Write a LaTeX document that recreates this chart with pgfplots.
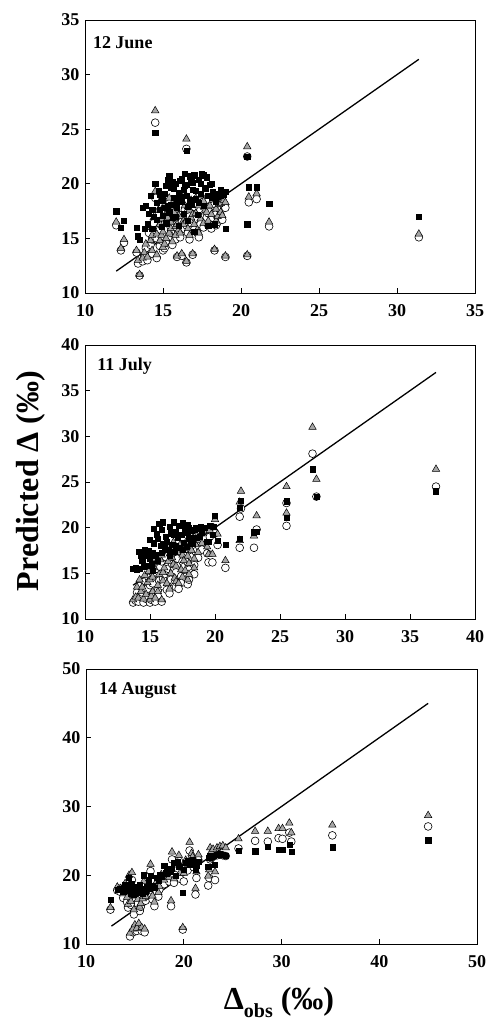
\documentclass[border=0pt]{standalone}
\usepackage{fontspec}
\setmainfont{Liberation Serif}
\usepackage{pgfplots}
\pgfplotsset{compat=1.18}
\usepackage{pgfplotstable}

\pgfplotstableread{
x sq ci tr
12.0 17.5 16.2 16.5
12.3 16.0 13.9 14.1
12.5 16.6 14.6 14.9
13.3 16.0 13.7 13.9
13.4 15.2 12.7 13.0
13.5 14.9 11.6 11.7
13.7 17.8 12.9 13.2
13.8 15.9 13.4 13.7
13.9 18.0 14.1 14.5
14.0 16.3 13.0 13.3
14.1 17.3 15.5 16.0
14.2 18.9 14.4 14.8
14.3 15.9 13.6 13.9
14.3 17.6 14.9 15.3
14.4 17.0 16.4 16.9
14.5 24.7 25.6 26.7
14.5 20.0 18.7 19.3
14.6 18.3 13.2 13.5
14.6 16.7 15.0 15.4
14.7 19.4 17.1 17.6
14.8 17.6 14.3 14.8
14.8 19.0 15.8 16.3
14.9 16.1 16.2 16.8
14.9 18.6 14.8 15.3
15.0 18.5 15.2 15.6
15.0 17.1 13.9 14.2
15.1 19.1 17.6 18.1
15.1 17.8 14.1 14.5
15.2 16.4 14.6 15.0
15.2 19.8 16.9 17.3
15.3 18.0 16.8 17.4
15.3 20.4 16.4 16.9
15.4 20.7 18.2 18.7
15.4 17.4 15.1 15.5
15.5 19.7 16.0 16.5
15.5 18.1 15.5 15.9
15.6 16.9 14.4 14.7
15.6 20.2 17.7 18.2
15.7 18.7 17.3 17.8
15.7 19.6 16.9 17.4
15.8 20.0 15.7 16.1
15.8 17.0 14.9 15.3
15.9 17.8 13.3 13.4
15.9 18.3 15.9 16.3
16.0 19.2 16.6 17.1
16.0 16.2 15.4 15.8
16.1 20.3 17.8 18.4
16.1 18.8 15.1 15.5
16.2 18.4 13.4 13.6
16.2 20.5 16.5 17.0
16.3 17.3 16.1 16.6
16.3 19.5 15.9 16.3
16.4 19.8 18.5 19.1
16.4 20.9 17.6 18.0
16.5 23.0 23.2 24.1
16.5 18.9 12.8 12.9
16.5 19.9 16.2 16.6
16.6 16.6 15.5 15.9
16.6 17.9 17.4 17.9
16.7 20.7 17.0 17.6
16.7 18.5 14.9 15.3
16.8 18.1 16.4 16.9
16.8 20.3 18.0 18.5
16.9 19.5 13.5 13.6
16.9 20.1 16.8 17.2
17.0 15.6 15.8 16.3
17.0 20.8 17.9 18.5
17.1 18.6 16.8 17.3
17.1 19.4 18.2 18.7
17.2 17.2 15.5 15.8
17.3 20.4 17.4 18.0
17.3 18.3 15.1 15.5
17.4 19.1 16.3 16.8
17.4 20.0 17.6 18.2
17.5 20.9 18.3 18.9
17.6 18.0 16.0 16.4
17.6 20.8 17.9 18.4
17.7 19.6 17.1 17.6
17.8 20.6 16.9 17.4
17.9 16.2 16.2 16.6
17.9 18.9 17.3 17.9
18.0 19.9 17.5 18.0
18.1 18.7 16.7 17.2
18.1 20.0 15.9 16.2
18.2 19.3 18.0 18.6
18.3 16.3 13.9 14.0
18.4 19.0 17.2 17.7
18.4 18.4 16.2 16.6
18.5 18.8 16.5 17.0
18.6 19.1 17.7 18.1
18.7 18.9 17.0 17.4
18.7 19.5 17.6 18.2
18.8 19.2 16.7 17.1
18.9 19.0 18.0 18.5
19.0 15.9 13.3 13.4
19.0 19.3 17.8 18.3
20.4 22.5 22.5 23.4
20.4 16.3 13.4 13.5
20.5 19.7 18.3 18.8
21.0 19.7 18.6 19.1
21.8 18.2 16.1 16.5
31.4 17.0 15.1 15.4
}\junedata

\pgfplotstableread{
x sq ci tr
13.7 15.5 11.8 12.1
13.9 15.6 12.0 12.4
14.0 15.4 12.9 13.5
14.1 17.4 11.9 12.3
14.2 15.5 13.6 14.3
14.3 17.0 12.4 13.0
14.4 16.4 12.9 13.5
14.5 15.7 11.8 12.2
14.6 17.6 14.1 14.8
14.7 16.9 12.2 12.7
14.8 15.8 13.3 14.0
14.9 17.5 14.5 15.2
15.0 18.7 11.8 12.1
15.0 16.6 13.7 14.3
15.1 16.0 12.1 12.5
15.2 17.2 13.9 14.6
15.2 15.3 12.5 13.0
15.3 18.3 14.9 15.6
15.3 19.9 15.9 16.6
15.4 17.0 11.9 12.3
15.5 19.3 15.5 16.2
15.6 16.4 13.1 13.7
15.6 18.8 12.5 13.0
15.7 20.4 14.2 14.9
15.8 18.0 15.7 16.5
15.9 17.3 11.9 12.1
15.9 19.8 16.3 17.0
16.0 20.6 13.6 14.2
16.0 18.2 14.4 15.1
16.1 17.8 14.9 15.6
16.2 19.0 16.8 17.6
16.3 18.5 13.2 13.9
16.4 17.6 15.5 16.3
16.5 20.1 17.2 18.0
16.5 17.0 12.8 13.3
16.6 19.4 14.3 15.0
16.7 18.1 16.0 16.7
16.8 20.6 17.6 18.4
16.8 19.2 15.3 16.0
16.9 17.4 13.9 14.5
17.0 19.6 15.1 15.8
17.0 18.0 13.5 14.1
17.1 18.9 16.6 17.3
17.2 20.2 13.3 13.9
17.3 17.8 17.4 18.1
17.4 19.2 14.7 15.4
17.5 20.5 16.3 17.0
17.5 17.6 14.0 14.6
17.6 18.4 15.7 16.4
17.7 19.9 14.6 15.3
17.8 17.9 17.7 18.5
17.9 19.5 13.8 14.3
17.9 20.3 16.2 16.9
18.0 20.0 15.4 16.1
18.0 18.8 14.3 14.9
18.1 18.6 17.0 17.7
18.2 19.7 16.8 17.5
18.3 18.3 18.1 18.9
18.4 19.8 15.9 16.6
18.4 18.9 14.9 15.6
18.5 20.0 17.4 18.2
18.6 18.9 18.3 19.1
18.7 19.9 16.7 17.3
18.8 19.0 17.9 18.6
18.9 20.1 18.5 19.3
19.0 19.5 17.6 18.3
19.2 20.0 18.8 19.6
19.4 18.5 17.2 17.9
19.5 18.5 16.2 17.1
19.6 20.2 19.0 19.7
19.8 19.2 16.2 17.1
19.9 20.1 19.3 20.0
20.0 21.3 19.4 20.9
20.2 18.6 18.1 19.3
20.8 18.1 15.6 16.4
21.9 18.8 17.8 18.6
21.9 22.2 21.2 22.8
22.0 23.0 22.1 24.0
23.0 19.5 17.8 19.1
23.2 19.6 19.8 21.3
25.5 22.9 22.7 24.5
25.5 21.1 20.2 21.6
27.5 26.4 28.1 31.0
27.8 23.4 23.4 25.3
37.0 24.0 24.5 26.4
}\julydata

\pgfplotstableread{
x sq ci tr
12.5 16.4 15.0 15.3
13.2 17.9 17.8 18.3
13.5 18.0 17.6 18.1
13.8 17.7 16.7 17.3
14.0 18.6 18.3 18.8
14.2 18.4 16.1 16.8
14.3 17.8 15.3 15.8
14.4 19.6 17.2 20.0
14.5 18.1 11.1 11.6
14.6 17.4 15.7 16.2
14.7 18.8 19.3 20.4
14.8 17.5 11.7 12.2
14.9 17.2 14.3 15.0
15.0 18.0 12.4 12.8
15.0 17.3 16.8 17.4
15.1 17.6 16.5 17.0
15.2 18.3 11.9 12.3
15.3 17.5 15.9 16.5
15.4 18.2 12.5 13.0
15.5 17.7 17.2 17.8
15.5 18.6 14.8 15.4
15.6 17.9 15.4 15.9
15.7 18.1 11.9 12.4
15.8 17.4 16.1 16.6
15.9 20.0 18.5 19.1
16.0 17.8 11.7 12.2
16.1 17.6 16.3 16.9
16.2 18.3 17.0 17.6
16.4 19.3 18.1 18.7
16.5 18.0 17.5 18.1
16.6 19.9 20.6 21.6
16.8 18.5 16.5 17.0
17.0 18.2 15.5 16.1
17.2 19.6 18.4 19.0
17.4 19.2 16.9 17.5
17.5 20.0 17.9 18.4
17.7 19.8 19.4 20.1
18.0 21.4 18.7 19.3
18.2 20.3 20.0 20.6
18.3 20.9 19.8 20.4
18.5 21.0 19.1 19.7
18.7 20.5 15.5 16.3
18.8 21.0 22.3 23.4
19.0 21.8 18.9 19.5
19.2 19.9 20.7 21.5
19.4 22.0 21.0 21.8
19.5 21.3 22.1 22.9
19.6 21.2 19.5 20.3
19.9 17.5 12.1 12.4
20.0 20.8 19.1 20.3
20.2 21.8 21.4 22.2
20.4 22.1 20.7 21.6
20.6 21.5 23.6 24.8
20.8 22.0 22.4 23.2
20.9 22.3 21.9 22.7
21.0 21.7 21.2 22.0
21.2 20.9 17.2 18.1
21.3 21.4 19.6 20.5
21.5 22.0 22.2 23.0
22.5 21.2 18.5 19.9
22.6 22.6 19.6 20.8
22.7 22.8 22.3 24.0
22.8 22.7 22.5 23.4
23.0 22.9 22.7 23.8
23.2 21.5 19.3 20.5
23.4 23.0 22.9 24.0
23.7 23.1 23.0 24.2
24.0 23.0 22.9 24.3
24.3 22.9 22.8 24.0
25.6 23.6 23.9 25.3
27.3 23.5 25.0 26.4
28.6 24.2 24.9 26.4
29.7 23.7 25.4 26.8
30.1 23.7 25.3 26.8
30.8 24.4 26.2 27.6
31.0 23.4 24.9 26.2
35.2 24.1 25.8 27.3
45.0 25.1 27.1 28.7
}\augdata

\pgfplotsset{
  myaxis/.style={
    scale only axis, anchor=south west,
    axis line style={line width=0.9pt},
    tick align=inside, xtick pos=bottom, ytick pos=left,
    major tick length=5pt,
    tick style={line width=0.8pt, black},
    ticklabel style={font=\fontsize{18}{20}\selectfont\bfseries},
    /pgf/number format/assume math mode=true,
    xticklabel style={yshift=-8pt},
    yticklabel style={xshift=-2pt},
  },
  sqm/.style={only marks, mark=square*, mark size=2.6pt, mark options={fill=black, draw=black, line width=0.3pt}},
  cim/.style={only marks, mark=*, mark size=3.9pt, mark options={fill=white, draw=black, line width=0.6pt}},
  trm/.style={only marks, mark=triangle*, mark size=4.3pt, mark options={fill=gray!70, draw=black, line width=0.5pt}},
  onel/.style={no marks, black, line width=1.3pt},
}

\begin{document}
\begin{tikzpicture}[x=1pt,y=1pt]
\useasboundingbox (0,0) rectangle (489,1021);

\begin{axis}[myaxis, at={(85pt,728pt)}, width=390pt, height=273pt,
  xmin=10, xmax=35, ymin=10, ymax=35, xtick={10,15,...,35}, ytick={10,15,...,35}]
  \addplot[cim] table[x=x, y=ci] {\junedata};
  \addplot[trm] table[x=x, y=tr] {\junedata};
  \addplot[sqm] table[x=x, y=sq] {\junedata};
  \addplot[onel] coordinates {(12.0,12.0) (31.4,31.4)};
  \node[anchor=west, inner sep=0pt, font=\fontsize{18}{20}\selectfont\bfseries] at (rel axis cs:0.02,0.918) {12 June};
\end{axis}

\begin{axis}[myaxis, at={(85pt,402pt)}, width=390pt, height=274pt,
  xmin=10, xmax=40, ymin=10, ymax=40, xtick={10,15,...,40}, ytick={10,15,...,40}]
  \addplot[cim] table[x=x, y=ci] {\julydata};
  \addplot[trm] table[x=x, y=tr] {\julydata};
  \addplot[sqm] table[x=x, y=sq] {\julydata};
  \addplot[onel] coordinates {(13.7,13.7) (37.0,37.0)};
  \node[anchor=west, inner sep=0pt, font=\fontsize{18}{20}\selectfont\bfseries] at (rel axis cs:0.031,0.923) {11 July};
\end{axis}

\begin{axis}[myaxis, at={(86pt,77pt)}, width=391pt, height=275pt,
  xmin=10, xmax=50, ymin=10, ymax=50, xtick={10,20,...,50}, ytick={10,20,...,50}]
  \addplot[cim] table[x=x, y=ci] {\augdata};
  \addplot[trm] table[x=x, y=tr] {\augdata};
  \addplot[sqm] table[x=x, y=sq] {\augdata};
  \addplot[onel] coordinates {(12.6,12.6) (45.0,45.0)};
  \node[anchor=west, inner sep=0pt, font=\fontsize{18}{20}\selectfont\bfseries] at (rel axis cs:0.033,0.92) {14 August};
\end{axis}

\node[rotate=90, inner sep=0pt, font=\fontsize{32}{36}\selectfont\bfseries] at (31,540) {Predicted Δ (‰)};
\node[anchor=base, inner sep=0pt, font=\fontsize{32}{36}\selectfont\bfseries] at (279,11) {Δ\raisebox{-0.22em}{\fontsize{20}{22}\selectfont obs} (‰)};
\end{tikzpicture}
\end{document}
